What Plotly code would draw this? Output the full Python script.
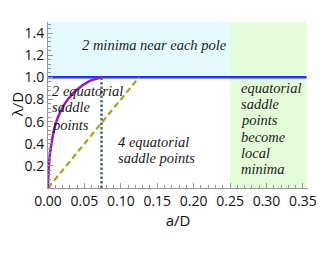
import plotly.graph_objects as go

# Data
curve_a = [0, 0.0008, 0.0025, 0.0055, 0.010, 0.017, 0.027, 0.040, 0.055, 0.0735]
curve_lam = [0, 0.15, 0.30, 0.43, 0.57, 0.69, 0.80, 0.89, 0.96, 1.0]
dashed_a = [0, 0.125]
dashed_lam = [0, 1.0]
dotted_a = [0.0735, 0.0735]
dotted_lam = [0, 1.0]
blue_a = [0, 0.355]
blue_lam = [1.0, 1.0]
x_ticks = [0.00, 0.05, 0.10, 0.15, 0.20, 0.25, 0.30, 0.35]
x_labels = ["0.00", "0.05", "0.10", "0.15", "0.20", "0.25", "0.30", "0.35"]
y_ticks = [0.2, 0.4, 0.6, 0.8, 1.0, 1.2, 1.4]
y_labels = ["0.2", "0.4", "0.6", "0.8", "1.0", "1.2", "1.4"]

top_text = "2 minima near each pole"
left_lines = ["2 equatorial", "saddle", "points"]
left_y = [0.88, 0.73, 0.57]
mid_lines = ["4 equatorial", "saddle points"]
mid_y = [0.42, 0.275]
right_lines = ["equatorial", "saddle", "points", "become", "local", "minima"]
right_y = [0.90, 0.755, 0.61, 0.465, 0.32, 0.175]

fig = go.Figure()

fig.add_shape(type="rect", x0=0, x1=0.25, y0=1.0, y1=1.5, fillcolor="#e3faff",
              line_width=0, layer="below")
fig.add_shape(type="rect", x0=0.25, x1=0.355, y0=0, y1=1.5, fillcolor="#e3fdd9",
              line_width=0, layer="below")

fig.add_trace(go.Scatter(x=blue_a, y=blue_lam, mode="lines",
                         line=dict(color="#2636e6", width=2.5), hoverinfo="skip"))
fig.add_trace(go.Scatter(x=dotted_a, y=dotted_lam, mode="lines",
                         line=dict(color="#4d6d6d", width=2.5, dash="2.5px,2px"), hoverinfo="skip"))
fig.add_trace(go.Scatter(x=dashed_a, y=dashed_lam, mode="lines",
                         line=dict(color="#a2a61e", width=2.2, dash="6px,3.5px"), hoverinfo="skip"))
fig.add_trace(go.Scatter(x=curve_a, y=curve_lam, mode="lines", line_shape="spline",
                         line=dict(color="#9a1cb8", width=2.5), hoverinfo="skip"))

tfont = dict(family="Liberation Serif", size=14.5, color="#1a1a1a", style="italic")
fig.add_annotation(x=0.146, y=1.29, text=top_text, showarrow=False, font=tfont,
                   xanchor="center", yanchor="middle")
for t, yy in zip(left_lines, left_y):
    fig.add_annotation(x=0.003, y=yy, text=t, showarrow=False, font=tfont,
                       xanchor="left", yanchor="middle")
for t, yy in zip(mid_lines, mid_y):
    fig.add_annotation(x=0.094, y=yy, text=t, showarrow=False, font=tfont,
                       xanchor="left", yanchor="middle")
for t, yy in zip(right_lines, right_y):
    fig.add_annotation(x=0.262, y=yy, text=t, showarrow=False, font=tfont,
                       xanchor="left", yanchor="middle")

# y-axis title as a rotated annotation
fig.add_annotation(xref="paper", yref="paper", x=-0.118, y=0.5, text="λ/D",
                   textangle=-90, showarrow=False, xanchor="center", yanchor="middle",
                   font=dict(family="Open Sans", size=15, color="#111111"))

axfont = dict(family="Open Sans", size=14, color="#111111")
fig.update_xaxes(range=[0, 0.357], tickvals=x_ticks, ticktext=x_labels,
                 automargin=False,
                 showgrid=False, zeroline=False, showline=True, linecolor="#9a949c",
                 linewidth=1, ticks="inside", ticklen=5, tickcolor="#9a949c",
                 tickfont=axfont,
                 minor=dict(dtick=0.01, ticks="inside", ticklen=3, tickcolor="#9a949c"),
                 title=dict(text="a/D", font=dict(family="Open Sans", size=15, color="#111111"),
                            standoff=6))
fig.update_yaxes(range=[0, 1.5], tickvals=y_ticks, ticktext=y_labels,
                 automargin=False,
                 showgrid=False, zeroline=False, showline=True, linecolor="#9a949c",
                 linewidth=1, ticks="inside", ticklen=5, tickcolor="#9a949c",
                 tickfont=axfont,
                 minor=dict(tickvals=[round(0.04 * i, 2) for i in range(1, 38)],
                            ticks="inside", ticklen=3, tickcolor="#9a949c"))

fig.update_layout(width=324, height=245, margin=dict(l=40, r=24, t=14, b=65),
                  paper_bgcolor="white", plot_bgcolor="white", showlegend=False)

fig.write_html("out.html")
